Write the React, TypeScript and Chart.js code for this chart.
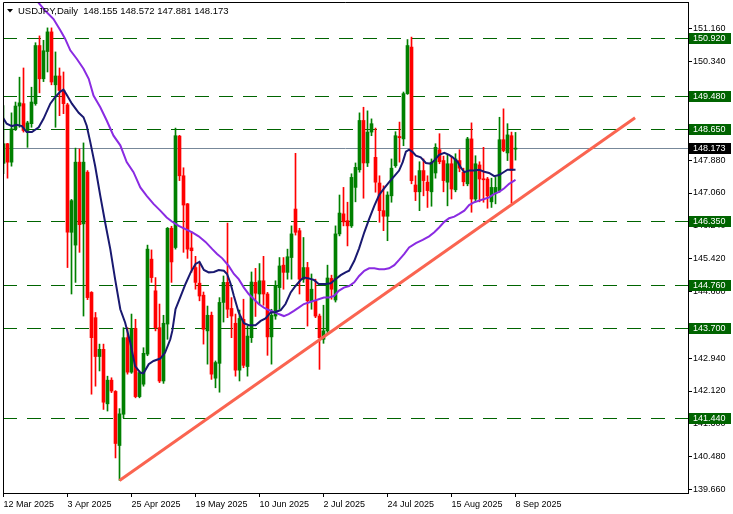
import React, { useEffect, useRef } from "react";
import { Chart, registerables } from "chart.js";
Chart.register(...registerables);

const symbolTitle = "USDJPY,Daily";

const opens = [147.80,148.29,147.83,148.66,149.23,149.29,148.62,148.79,149.29,150.74,149.91,150.59,151.08,149.76,149.98,149.62,149.26,146.08,145.76,147.83,146.29,147.58,144.58,143.95,142.98,143.16,141.80,142.39,142.11,140.76,141.54,143.45,142.59,143.68,141.98,142.29,143.04,145.41,144.62,143.70,142.37,143.79,146.18,145.70,148.48,147.49,146.79,145.69,145.20,144.81,144.51,143.62,144.01,142.44,142.81,144.33,144.83,144.18,143.81,142.64,143.91,142.73,143.45,144.83,144.54,144.87,144.54,143.47,143.99,144.70,145.26,145.08,145.45,146.66,146.12,144.91,145.20,144.37,144.37,143.99,143.41,143.62,144.93,144.39,146.04,146.54,146.37,146.24,147.20,147.64,148.87,147.81,148.58,147.95,147.31,146.62,146.48,146.99,147.74,148.47,148.41,149.54,150.70,147.26,147.09,147.62,147.33,147.09,147.56,148.14,147.87,147.33,147.79,147.14,147.87,147.58,147.29,148.41,146.91,147.76,147.41,147.41,146.84,147.06,147.12,148.39,148.06,148.49,148.155];
const highs = [149.24,148.30,149.06,149.33,149.95,150.18,148.85,149.70,150.81,150.98,150.87,151.18,151.18,150.58,150.18,150.08,149.30,146.90,148.18,148.16,148.31,147.62,144.60,144.08,143.29,143.29,142.49,142.45,142.13,141.68,143.70,143.70,144.04,143.91,142.62,143.20,145.76,145.64,144.95,144.29,144.01,146.20,146.23,148.68,148.50,147.69,146.80,146.09,145.48,145.31,144.59,144.24,144.09,142.87,144.45,144.99,146.31,144.45,144.04,144.14,144.41,143.74,145.09,145.18,145.30,145.48,144.58,144.16,144.87,145.45,145.45,145.66,146.24,148.05,146.18,145.95,145.33,145.04,144.91,144.04,144.26,145.26,145.01,146.24,147.01,147.20,146.83,147.54,147.81,149.06,149.20,149.11,148.91,148.68,147.49,147.24,147.09,147.91,148.59,148.83,149.58,150.89,150.95,147.49,147.84,147.91,147.49,147.91,148.29,148.54,147.98,148.01,147.98,148.04,148.14,147.68,148.45,148.81,147.99,147.84,148.20,147.45,147.43,147.45,148.95,149.16,148.79,148.58,148.572];
const lows = [147.54,147.43,147.73,148.62,148.70,148.58,148.20,148.70,149.25,149.56,149.84,150.08,149.76,148.70,148.99,149.04,145.20,144.54,144.83,145.58,143.99,144.40,142.04,142.24,142.62,141.66,141.62,142.08,140.45,139.89,141.45,142.54,142.56,141.95,141.95,142.24,143.00,144.83,143.62,142.33,142.31,143.41,144.83,145.66,147.37,145.58,145.43,145.08,144.66,144.37,143.29,142.79,142.41,142.20,142.09,143.84,143.95,143.45,142.49,142.37,142.70,142.49,143.33,143.98,144.27,144.26,143.01,142.79,143.91,144.16,144.66,144.91,144.91,146.01,144.54,144.83,143.74,144.16,143.95,142.66,143.31,143.54,144.41,144.34,145.99,146.24,145.74,146.20,146.84,147.58,146.93,147.72,148.49,147.08,146.33,146.12,145.87,146.83,147.70,147.83,148.24,149.52,147.29,146.87,146.62,146.99,146.70,146.73,147.43,147.79,147.09,146.74,146.91,147.09,147.59,147.24,147.24,146.58,146.84,146.84,146.83,146.68,146.70,146.79,147.08,148.09,147.87,146.81,147.881];
const closes = [148.29,147.83,148.66,149.23,149.31,148.62,148.81,149.33,150.74,149.91,150.61,151.08,149.83,149.98,149.62,149.29,146.08,146.87,147.83,146.27,147.83,144.45,143.45,142.98,143.16,141.84,142.39,142.12,140.81,141.55,143.45,142.59,143.68,141.98,142.58,143.06,145.66,144.95,143.70,142.37,143.81,146.18,145.34,148.49,147.49,146.76,145.66,145.62,144.83,144.49,143.66,144.01,142.54,142.83,144.33,144.83,144.16,143.99,142.64,143.93,142.76,143.49,144.84,144.56,144.87,144.54,143.47,144.01,144.74,145.24,145.08,145.47,146.04,146.08,144.91,145.20,144.37,144.66,143.99,143.45,143.62,144.94,144.66,146.04,146.56,146.34,146.24,147.45,147.70,148.87,147.81,148.58,148.79,147.33,146.62,146.48,147.01,147.68,148.49,148.44,149.54,150.74,147.37,147.09,147.62,147.37,147.12,147.83,148.20,147.84,147.37,147.79,147.16,147.91,147.68,147.34,148.41,146.91,147.79,147.41,147.39,146.99,147.20,147.20,148.39,148.12,148.51,147.62,148.173];

const maFastX = [-0.2,0.8,2.1,3.3,4.6,5.8,7.1,8.8,10,11.7,12.9,14.2,15,15.8,17.1,18.8,20,20.8,21.7,22.9,24.2,25.4,26.7,27.9,29.2,30.4,31.7,32.9,34.2,35,36.3,37.5,39.2,40.4,41.7,42.2,43,44.3,45.5,46.8,48,49,50.1,51.3,52.6,53.8,55.1,55.9,56.8,57.6,58.8,60.1,61.3,63,64.3,65.5,66.8,68,69.3,70.5,71.8,73,74.3,75.1,76.3,77.6,78.8,80.5,81.8,83,84.3,85.5,86.4,87.7,88.9,90.2,91.4,92.7,93.9,95.2,96.4,97.7,98.9,99.8,100.6,101.4,102.3,103.1,104.3,105.6,106.8,107.7,108.9,110.2,111.4,112.3,113.5,114.3,115.2,116.4,117.7,118.9,120.2,121.4,122.7,123.9,125.2,126,126.8,128];
const maFastY = [148.95,148.79,148.73,148.76,148.73,148.58,148.58,148.70,148.91,149.29,149.45,149.59,149.64,149.51,149.29,149.06,148.95,148.74,148.33,147.74,146.99,146.33,145.66,144.91,144.16,143.83,143.33,142.74,142.58,142.56,142.79,142.87,142.93,143.08,143.41,143.62,144.16,144.49,144.79,145.08,145.29,145.34,145.14,145.08,145.09,145.14,145.12,145.04,144.79,144.49,144.08,143.81,143.76,143.76,143.87,143.93,144.08,144.09,144.14,144.29,144.58,144.74,144.89,144.95,144.93,144.89,144.79,144.79,144.81,144.91,145.01,145.08,145.12,145.37,145.68,146.08,146.41,146.74,147.01,147.18,147.33,147.48,147.62,147.83,148.09,148.14,148.08,147.99,147.95,147.81,147.79,147.87,148.01,148.06,148.01,147.95,147.84,147.70,147.58,147.62,147.62,147.64,147.59,147.56,147.48,147.51,147.59,147.64,147.64,147.64];

const maSlowX = [7.9,10.5,12.5,14.2,15.4,16.7,18.3,20,21.3,22.5,24.2,25.8,27.5,29.2,30.8,32.5,34.2,35.8,37.5,39.2,40.8,42.1,43.8,45.5,47.2,48.8,50.5,52.2,53.4,54.7,56.3,57.6,58.8,60.1,61.3,62.6,63.8,65.1,66.3,67.6,68.8,70.1,71.3,72.6,73.8,75.1,76.3,77.6,78.8,80.1,81.3,82.6,83.8,85.1,86.4,87.7,88.9,90.2,91.4,92.7,93.9,95.2,96.4,97.7,98.9,100.2,101.4,103.1,104.8,106.4,107.7,108.9,110.2,111.4,112.7,113.9,115.2,116.4,117.7,118.9,120.2,121.4,122.7,123.9,125.2,126.4,127.7,128];
const maSlowY = [151.91,151.6,151.4,151.12,150.91,150.62,150.41,150.16,149.91,149.49,149.20,148.87,148.49,148.25,147.83,147.58,147.20,146.99,146.79,146.62,146.45,146.35,146.24,146.16,146.08,145.98,145.84,145.66,145.54,145.43,145.24,145.04,144.91,144.70,144.54,144.41,144.29,144.20,144.14,144.09,144.04,143.99,144.04,144.12,144.20,144.29,144.33,144.37,144.41,144.45,144.45,144.49,144.62,144.70,144.74,144.83,144.99,145.12,145.18,145.18,145.16,145.16,145.18,145.26,145.39,145.54,145.70,145.81,145.89,145.98,146.08,146.20,146.34,146.43,146.47,146.54,146.62,146.76,146.83,146.87,146.91,146.95,147.04,147.09,147.18,147.29,147.37,147.39];

const trendX = [29, 157.9];
const trendY = [139.885, 148.94];

const levels = [150.92, 149.48, 148.65, 146.35, 144.76, 143.7, 141.44];
const currentPrice = 148.173;

const yTicks = [151.16, 150.34, 149.52, 148.7, 147.88, 147.06, 146.24, 145.42, 144.6, 142.94, 142.12, 141.3, 140.48, 139.66];
const xTickBars = [0, 16, 32, 48, 64, 80, 96, 112, 128];
const xTickLabels = ["12 Mar 2025", "3 Apr 2025", "25 Apr 2025", "19 May 2025", "10 Jun 2025", "2 Jul 2025", "24 Jul 2025", "15 Aug 2025", "8 Sep 2025"];

const X_MIN = -0.125;
const X_MAX = 171.125;
const Y_MIN = 139.575;
const Y_MAX = 151.826;

const FONT = "Liberation Sans";
const LEVEL_GREEN = "#006400";

export default function App() {
  const ref = useRef<HTMLCanvasElement>(null);
  useEffect(() => {
    const canvas = ref.current;
    if (!canvas) return;
    const idx = opens.map((_, i) => i);
    const colors = idx.map((i) => (closes[i] >= opens[i] ? "#008000" : "#ff0000"));

    const hLinesPlugin = {
      id: "hlines",
      beforeDatasetsDraw(chart: any) {
        const ctx = chart.ctx;
        const ca = chart.chartArea;
        const ys = chart.scales.y;
        ctx.save();
        ctx.lineWidth = 1;
        ctx.strokeStyle = LEVEL_GREEN;
        ctx.setLineDash([14, 10]);
        levels.forEach((lv) => {
          const y = Math.round(ys.getPixelForValue(lv)) + 0.5;
          ctx.beginPath();
          ctx.moveTo(ca.left, y);
          ctx.lineTo(ca.right, y);
          ctx.stroke();
        });
        ctx.setLineDash([]);
        ctx.strokeStyle = "#778899";
        const yc = Math.round(ys.getPixelForValue(currentPrice)) + 0.5;
        ctx.beginPath();
        ctx.moveTo(ca.left, yc);
        ctx.lineTo(ca.right, yc);
        ctx.stroke();
        ctx.restore();
      },
    };

    const overlayPlugin = {
      id: "overlay",
      afterDraw(chart: any) {
        const ctx = chart.ctx;
        const ca = chart.chartArea;
        const ys = chart.scales.y;
        ctx.save();
        ctx.strokeStyle = "#000";
        ctx.lineWidth = 1;
        ctx.beginPath();
        ctx.moveTo(ca.left + 0.5, ca.bottom);
        ctx.lineTo(ca.left + 0.5, ca.top + 0.5);
        ctx.lineTo(ca.right, ca.top + 0.5);
        ctx.stroke();
        ctx.font = `9px ${FONT}`;
        ctx.textBaseline = "middle";
        ctx.textAlign = "left";
        const box = (v: number, bg: string) => {
          const y = Math.round(ys.getPixelForValue(v));
          ctx.fillStyle = bg;
          ctx.fillRect(689, y - 5, 42, 11);
          ctx.fillStyle = "#fff";
          ctx.fillText(v.toFixed(3), 693, y + 0.5);
        };
        levels.forEach((lv) => box(lv, LEVEL_GREEN));
        box(currentPrice, "#000");
        ctx.fillStyle = "#000";
        ctx.beginPath();
        ctx.moveTo(7, 9);
        ctx.lineTo(13, 9);
        ctx.lineTo(10, 12.5);
        ctx.closePath();
        ctx.fill();
        const last = opens.length - 1;
        const header = `${symbolTitle}  ${opens[last].toFixed(3)} ${highs[last].toFixed(3)} ${lows[last].toFixed(3)} ${closes[last].toFixed(3)}`;
        ctx.font = `9.5px ${FONT}`;
        ctx.fillText(header, 18, 11);
        ctx.restore();
      },
    };

    const lineBase = { type: "line", pointRadius: 0, tension: 0, clip: 0 } as any;

    const chart = new Chart(canvas, {
      type: "bar",
      data: {
        datasets: [
          {
            type: "bar",
            data: idx.map((i) => ({ x: i, y: [lows[i], highs[i]] })),
            backgroundColor: colors,
            barThickness: 1,
            grouped: false,
            borderWidth: 0,
            order: 6,
          },
          {
            type: "bar",
            data: idx.map((i) => ({ x: i, y: [opens[i], closes[i]] })),
            backgroundColor: colors,
            barThickness: 3,
            minBarLength: 1,
            grouped: false,
            borderWidth: 0,
            order: 5,
          },
          {
            ...lineBase,
            data: maSlowX.map((x, i) => ({ x, y: maSlowY[i] })),
            borderColor: "#8a2be2",
            borderWidth: 2,
            order: 3,
          },
          {
            ...lineBase,
            data: maFastX.map((x, i) => ({ x, y: maFastY[i] })),
            borderColor: "#191970",
            borderWidth: 2,
            order: 2,
          },
          {
            ...lineBase,
            data: trendX.map((x, i) => ({ x, y: trendY[i] })),
            borderColor: "#fa6450",
            borderWidth: 3,
            order: 1,
          },
        ] as any,
      },
      options: {
        animation: false,
        responsive: false,
        devicePixelRatio: 1,
        events: [],
        layout: { padding: { left: 3, top: 2, right: 0, bottom: 0 } },
        plugins: { legend: { display: false }, tooltip: { enabled: false } },
        scales: {
          x: {
            type: "linear",
            min: X_MIN,
            max: X_MAX,
            offset: false,
            grid: { display: true, drawOnChartArea: false, drawTicks: true, tickLength: 4, color: "#000", offset: false },
            border: { display: true, color: "#000", width: 1 },
            afterBuildTicks: (scale: any) => {
              scale.ticks = xTickBars.map((v) => ({ value: v }));
            },
            afterFit: (scale: any) => {
              scale.height = 21;
              scale.paddingLeft = 0;
              scale.paddingRight = 0;
            },
            ticks: {
              autoSkip: false,
              maxRotation: 0,
              minRotation: 0,
              align: "start",
              padding: 2,
              color: "#000",
              font: { family: FONT, size: 9 },
              callback: (v: any) => {
                const k = xTickBars.indexOf(Number(v));
                return k >= 0 ? xTickLabels[k] : "";
              },
            },
          },
          y: {
            type: "linear",
            position: "right",
            min: Y_MIN,
            max: Y_MAX,
            grid: { display: true, drawOnChartArea: false, drawTicks: true, tickLength: 4, color: "#000" },
            border: { display: true, color: "#000", width: 1 },
            afterBuildTicks: (scale: any) => {
              scale.ticks = yTicks.map((v) => ({ value: v }));
            },
            afterFit: (scale: any) => {
              scale.width = 45;
              scale.paddingTop = 0;
              scale.paddingBottom = 0;
            },
            ticks: {
              padding: 1,
              color: "#000",
              font: { family: FONT, size: 9 },
              callback: (v: any) => Number(v).toFixed(3),
            },
          },
        },
      } as any,
      plugins: [hLinesPlugin, overlayPlugin],
    });
    return () => chart.destroy();
  }, []);

  return (
    <div style={{ position: "fixed", left: 0, top: 0, width: 733, height: 514, background: "#fff" }}>
      <canvas ref={ref} width={733} height={514} style={{ display: "block", width: 733, height: 514 }} />
    </div>
  );
}
